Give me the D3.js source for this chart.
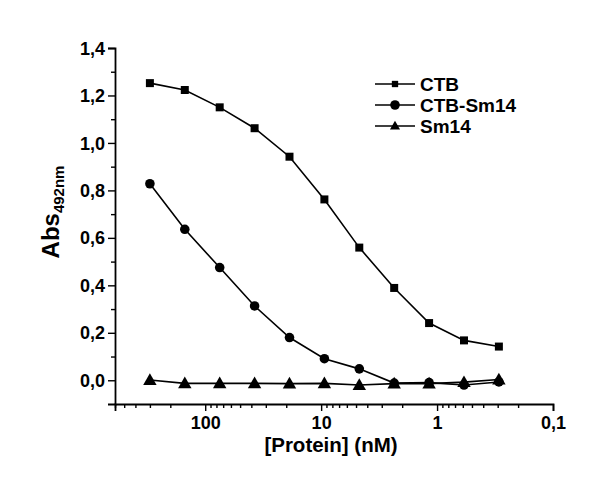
<!DOCTYPE html>
<html><head><meta charset="utf-8">
<script src="https://cdn.jsdelivr.net/npm/d3@7"></script>
<style>body{margin:0;background:#fff}svg{display:block;font-family:"Liberation Sans",Arial,sans-serif;font-weight:bold}</style>
</head><body><svg id="c" width="602" height="490"></svg>
<script>
const concentrations = [300, 150, 75, 37.5, 18.75, 9.375, 4.6875, 2.34375, 1.171875, 0.5859375, 0.29296875];
const ctb      = [1.252, 1.223, 1.150, 1.062, 0.942, 0.762, 0.559, 0.389, 0.241, 0.168, 0.142];
const ctbSm14  = [0.828, 0.636, 0.475, 0.313, 0.180, 0.091, 0.048, -0.012, -0.010, -0.020, -0.007];
const sm14     = [0.001, -0.013, -0.013, -0.013, -0.014, -0.013, -0.020, -0.014, -0.014, -0.008, 0.003];
const seriesNames = ["CTB", "CTB-Sm14", "Sm14"];
const xMajorTicks = [100, 10, 1, 0.1];
const xTickLabels = ["100", "10", "1", "0,1"];
const yMajorTicks = [0, 0.2, 0.4, 0.6, 0.8, 1.0, 1.2, 1.4];
const yTickLabels = ["0,0", "0,2", "0,4", "0,6", "0,8", "1,0", "1,2", "1,4"];

const svg = d3.select("#c");
const x = d3.scaleLog().domain([600, 0.1]).range([115, 553]);
const y = d3.scaleLinear().domain([-0.1, 1.4]).range([404, 48]);

const xMinor = [];
[100, 10, 1, 0.1].forEach(d => { for (let k = 2; k <= 9; k++) { const v = d * k; if (v <= 600 && v > 0.1 && !xMajorTicks.includes(v)) xMinor.push(v); } });
const yMinor = d3.range(-0.1, 1.4, 0.2).map(v => +v.toFixed(2)).filter(v => v > -0.1);

const gx = svg.append("g").attr("transform", "translate(0,404)");
gx.call(d3.axisBottom(x).tickValues(xMajorTicks).tickFormat((d, i) => xTickLabels[i]).tickSize(7).tickPadding(5));
gx.append("g").call(d3.axisBottom(x).tickValues(xMinor).tickFormat("").tickSize(4)).select(".domain").remove();

const gy = svg.append("g").attr("transform", "translate(115,0)");
gy.call(d3.axisLeft(y).tickValues(yMajorTicks).tickFormat((d, i) => yTickLabels[i]).tickSize(7).tickPadding(3));
gy.append("g").call(d3.axisLeft(y).tickValues(yMinor).tickFormat("").tickSize(4)).select(".domain").remove();

svg.selectAll(".domain").attr("stroke", "#000").attr("stroke-width", 1.8);
svg.selectAll(".tick line").attr("stroke", "#000").attr("stroke-width", 1.4);
svg.selectAll(".tick text").attr("fill", "#000").style("font-size", "18px").style("font-weight", "bold")
  .style("font-family", '"Liberation Sans",Arial,sans-serif');
gy.selectAll(".tick text").attr("dy", "0.34em");

svg.append("text").attr("x", 331).attr("y", 452).attr("text-anchor", "middle")
  .style("font-size", "20.5px").text("[Protein] (nM)");
const yt = svg.append("text").attr("transform", "translate(59,212) rotate(-90)").attr("text-anchor", "middle")
  .style("font-size", "24px");
yt.append("tspan").text("Abs");
yt.append("tspan").attr("dy", 5).style("font-size", "15px").text("492nm");

const sym = [d3.symbolSquare, d3.symbolCircle, d3.symbolTriangle];
const symSize = [64, 72, 78];
const allSeries = [ctb, ctbSm14, sm14];
const line = d3.line().x((d, i) => x(concentrations[i])).y(d => y(d));

allSeries.forEach((vals, s) => {
  const g = svg.append("g");
  g.append("path").datum(vals).attr("d", line).attr("fill", "none").attr("stroke", "#000").attr("stroke-width", 1.6);
  g.selectAll("path.m").data(vals).enter().append("path").attr("class", "m")
    .attr("transform", (d, i) => `translate(${x(concentrations[i])},${y(d) + (s === 2 ? 1 : 0)})`)
    .attr("d", d3.symbol(sym[s], symSize[s])).attr("fill", "#000");
});

const lg = svg.append("g");
const legSize = [40, 72, 44];
seriesNames.forEach((n, i) => {
  const cy = 84 + i * 21;
  lg.append("line").attr("x1", 375).attr("x2", 415).attr("y1", cy).attr("y2", cy).attr("stroke", "#000").attr("stroke-width", 1.6);
  lg.append("path").attr("transform", `translate(395,${cy + (i === 2 ? 0.5 : 0)})`).attr("d", d3.symbol(sym[i], legSize[i])).attr("fill", "#000");
  lg.append("text").attr("x", 420).attr("y", cy + 7).style("font-size", "19px").text(n);
});
</script></body></html>
